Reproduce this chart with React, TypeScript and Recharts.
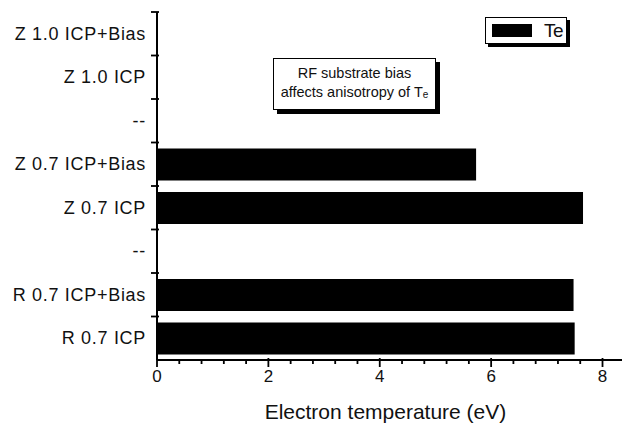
import { BarChart, Bar, XAxis, YAxis, Legend } from 'recharts'

const categories = [
  'Z 1.0 ICP+Bias',
  'Z 1.0 ICP',
  '--',
  'Z 0.7 ICP+Bias',
  'Z 0.7 ICP',
  '--',
  'R 0.7 ICP+Bias',
  'R 0.7 ICP',
]
const teValues: (number | null)[] = [null, null, null, 5.73, 7.65, null, 7.48, 7.5]
const xTicks = [0, 0.4, 0.8, 1.2, 1.6, 2, 2.4, 2.8, 3.2, 3.6, 4, 4.4, 4.8, 5.2, 5.6, 6, 6.4, 6.8, 7.2, 7.6, 8]
const majorTicks = [0, 2, 4, 6, 8]

const W = 625
const H = 426
const TOP = 12
const BOTTOM = 66
const BAND = (H - TOP - BOTTOM) / categories.length
const FONT = '"Liberation Sans", Arial, sans-serif'

const data = categories.map((name, i) => ({ name, te: teValues[i] }))

const YTick = ({ x, y, payload }: any) => (
  <g>
    <line x1={x - 6} x2={x + 2} y1={y - BAND / 2} y2={y - BAND / 2} stroke="#000" strokeWidth={1.8} />
    <text
      x={x - 11}
      y={y}
      textAnchor="end"
      dominantBaseline="central"
      fontSize={18}
      letterSpacing={0.7}
      fontFamily={FONT}
      fill="#111"
    >
      {payload.value}
    </text>
  </g>
)

const XTick = ({ x, y, payload }: any) => {
  const major = majorTicks.includes(payload.value)
  return (
    <g>
      <line x1={x} x2={x} y1={y - (major ? 2 : 0)} y2={y + (major ? 7 : 4)} stroke="#000" strokeWidth={1.8} />
      {major && (
        <text x={x} y={y + 22} textAnchor="middle" fontSize={17} fontFamily={FONT} fill="#111">
          {payload.value}
        </text>
      )}
    </g>
  )
}

const LegendBox = () => (
  <div style={{
    boxSizing: 'border-box', width: 82, height: 27, border: '1.5px solid #000', background: '#fff',
    boxShadow: '3px 3px 0 #000', display: 'flex', alignItems: 'center', fontFamily: FONT,
  }}>
    <div style={{ width: 40, height: 13, background: '#000', marginLeft: 6 }} />
    <span style={{ fontSize: 19, marginLeft: 12, color: '#111', lineHeight: 1, letterSpacing: -0.5 }}>Te</span>
  </div>
)

export default function App() {
  return (
    <div style={{ position: 'absolute', left: 0, top: 0, width: W, height: H, background: '#fff' }}>
      <BarChart
        width={W}
        height={H}
        data={data}
        layout="vertical"
        margin={{ top: TOP, right: 3, left: 0, bottom: 0 }}
        barSize={32}
      >
        <XAxis
          type="number"
          domain={[0, 8.35]}
          ticks={xTicks}
          interval={0}
          height={BOTTOM}
          tickSize={0}
          tickMargin={0}
          tick={<XTick />}
          stroke="#000"
          strokeWidth={2}
          label={(props: any) => {
            const vb = props.viewBox
            return (
              <text
                x={vb.x + vb.width / 2 - 4}
                y={vb.y + 59}
                textAnchor="middle"
                fontSize={21}
                fontFamily={FONT}
                fill="#111"
              >
                Electron temperature (eV)
              </text>
            )
          }}
        />
        <YAxis
          type="category"
          dataKey="name"
          width={157}
          tickSize={0}
          tickMargin={0}
          tick={<YTick />}
          interval={0}
          stroke="#000"
          strokeWidth={2}
        />
        <Legend
          layout="vertical"
          verticalAlign="middle"
          align="center"
          wrapperStyle={{ left: 485, top: 17, width: 'auto' }}
          content={() => <LegendBox />}
        />
        <Bar dataKey="te" name="Te" fill="#000" isAnimationActive={false} />
      </BarChart>
      <div style={{
        position: 'absolute', left: 273, top: 58, width: 161, height: 50,
        border: '1px solid #000', background: '#fff', boxShadow: '4px 4px 0 #000',
        fontFamily: FONT, fontSize: 14.5, color: '#111', textAlign: 'center',
        display: 'flex', flexDirection: 'column', justifyContent: 'center', lineHeight: '19px',
      }}>
        <div>RF substrate bias</div>
        <div>affects anisotropy of T<sub style={{ fontSize: 10, verticalAlign: '-1px' }}>e</sub></div>
      </div>
    </div>
  )
}
